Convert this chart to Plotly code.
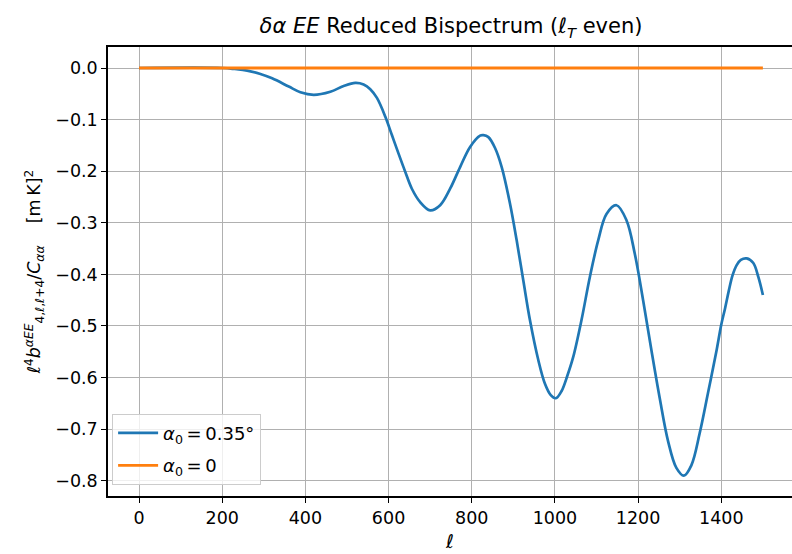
import plotly.graph_objects as go

# ell values and reduced-bispectrum values
ell_blue = [0, 200, 230, 260, 290, 320, 360, 388, 420, 460, 492, 520, 540, 556, 572, 592,
            608, 624, 640, 656, 676, 700, 724, 748, 772, 796, 820, 828, 840, 856, 872,
            892, 908, 924, 940, 960, 976, 990, 1002, 1016, 1030, 1044, 1064, 1084, 1104,
            1124, 1148, 1172, 1192, 1212, 1232, 1252, 1272, 1292, 1310, 1328, 1348,
            1368, 1388, 1400, 1409, 1418, 1427, 1437, 1447, 1461, 1477, 1489, 1500]
val_blue = [0.0, 0.0, -0.002, -0.005, -0.011, -0.020, -0.036, -0.047, -0.052, -0.046,
            -0.035, -0.029, -0.032, -0.041, -0.058, -0.094, -0.130, -0.166, -0.201,
            -0.234, -0.260, -0.276, -0.266, -0.234, -0.192, -0.153, -0.131, -0.130,
            -0.134, -0.155, -0.192, -0.263, -0.334, -0.412, -0.489, -0.566, -0.612,
            -0.634, -0.640, -0.626, -0.596, -0.560, -0.488, -0.405, -0.334, -0.283,
            -0.266, -0.295, -0.360, -0.450, -0.547, -0.640, -0.723, -0.775, -0.790,
            -0.770, -0.708, -0.630, -0.550, -0.497, -0.466, -0.432, -0.402, -0.382,
            -0.372, -0.369, -0.378, -0.405, -0.440]
ell_orange = [0, 1500]
val_orange = [0.0, 0.0]

label_blue = "<i>α</i><sub>0</sub>\u2009=\u20090.35°"
label_orange = "<i>α</i><sub>0</sub>\u2009=\u20090"

x_ticks = [0, 200, 400, 600, 800, 1000, 1200, 1400]
y_ticks = [0.0, -0.1, -0.2, -0.3, -0.4, -0.5, -0.6, -0.7, -0.8]

FONT = "DejaVu Sans"

fig = go.Figure()
fig.add_trace(go.Scatter(x=ell_blue, y=val_blue, mode="lines", name=label_blue, legendgroup="a",
                         line=dict(color="#1f77b4", width=2.7, shape="spline", smoothing=1.0)))
fig.add_trace(go.Scatter(x=ell_orange, y=val_orange, mode="lines", name=label_orange, legendgroup="b",
                         line=dict(color="#ff7f0e", width=2.9)))

fig.update_layout(
    width=792, height=554,
    margin=dict(l=108, r=0, t=47, b=58),
    paper_bgcolor="white", plot_bgcolor="white",
    font=dict(family=FONT, size=17.5, color="black"),
    title=dict(text="<i>δα EE</i> Reduced Bispectrum (<i>ℓ<sub>T</sub></i> even)",
               x=451 / 792, xanchor="center", y=1 - 26 / 554, yanchor="middle",
               font=dict(size=21, family=FONT)),
    showlegend=True,
    legend=dict(x=0.006, y=0.025, xanchor="left", yanchor="bottom",
                bgcolor="rgba(255,255,255,0.8)", bordercolor="#cccccc", borderwidth=1,
                font=dict(size=18, family=FONT), tracegroupgap=6,
                itemwidth=40),
)
fig.update_xaxes(
    range=[-74.6, 1570], tickvals=x_ticks, ticktext=[str(v) for v in x_ticks],
    showgrid=True, gridcolor="#b0b0b0", gridwidth=1.2, zeroline=False,
    showline=True, linecolor="black", linewidth=1.5, mirror=True,
    ticks="outside", ticklen=5, tickwidth=1.3, tickcolor="black",
    title=dict(text="<i>ℓ</i>", standoff=8, font=dict(size=19)),
)
fig.update_yaxes(
    range=[-0.8295, 0.0407], tickvals=y_ticks, tickformat=".1f",
    showgrid=True, gridcolor="#b0b0b0", gridwidth=1.2, zeroline=False,
    showline=True, linecolor="black", linewidth=1.5, mirror=False,
    ticks="outside", ticklen=5, tickwidth=1.3, tickcolor="black",
    title=dict(text="<i>ℓ</i><sup>4</sup><i>b</i><sup><i>αEE</i></sup><sub>4,<i>ℓ</i>,<i>ℓ</i>+4</sub>/<i>C</i><sub><i>αα</i></sub>\u00a0\u00a0\u00a0\u00a0[m\u2009K]<sup>2</sup>",
               standoff=10, font=dict(size=17.5)),
)

fig.write_html("out.html")
